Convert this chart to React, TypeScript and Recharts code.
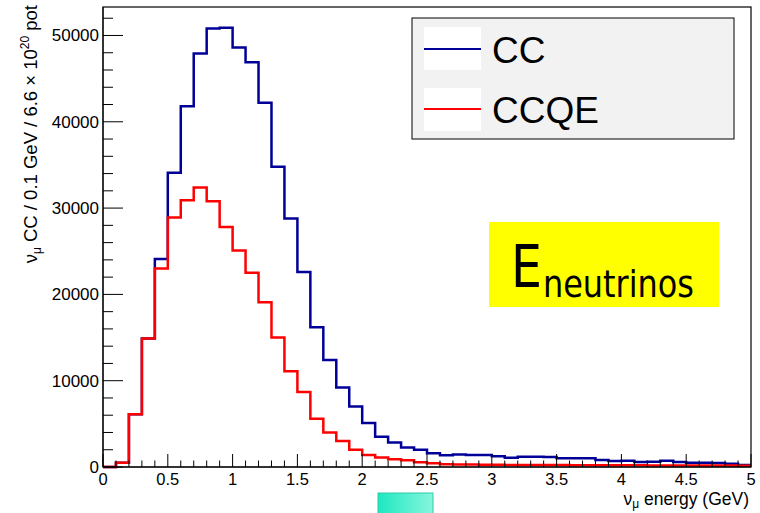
import { LineChart, Line, XAxis, YAxis } from 'recharts';

// events per 0.1 GeV bin, 0 -> 5 GeV (50 bins)
const CC_VALUES = [
  0, 500, 6100, 14900, 24100, 34100, 41800, 47900, 50800, 50900,
  48600, 46900, 42200, 34800, 28800, 22600, 16200, 12400, 9200, 7000,
  5100, 3500, 2850, 2250, 2000, 1600, 1350, 1450, 1400, 1400,
  1250, 1080, 1200, 1180, 1150, 1000, 1000, 1000, 810, 700,
  730, 580, 600, 720, 580, 500, 500, 460, 390, 230,
];
const CCQE_VALUES = [
  0, 500, 6100, 14900, 23000, 28900, 30900, 32400, 30800, 27800,
  25100, 22500, 19100, 15000, 11100, 8700, 5600, 4000, 3000, 2000,
  1400, 1100, 900, 770, 550, 430, 320, 300, 280, 270,
  250, 240, 230, 230, 220, 220, 210, 210, 200, 200,
  190, 190, 180, 180, 170, 170, 160, 160, 160, 150,
];
const BIN_WIDTH = 0.1;
const X_TICKS = Array.from({ length: 51 }, (_, i) => i / 10);
const Y_TICKS = Array.from({ length: 27 }, (_, i) => i * 2000);
const Y_MAX = 53300;

const SERIES = [
  { key: 'cc', name: 'CC', color: '#000099' },
  { key: 'ccqe', name: 'CCQE', color: '#ff0000' },
];

// bin low edges + closing edge at 5 GeV so the last step is drawn
const data = X_TICKS.map((_, i) => ({
  x: i * BIN_WIDTH,
  cc: CC_VALUES[Math.min(i, CC_VALUES.length - 1)],
  ccqe: CCQE_VALUES[Math.min(i, CCQE_VALUES.length - 1)],
}));

const FONT = '"Liberation Sans", Arial, Helvetica, sans-serif';
const AXIS_Y = 467; // bottom of the frame
const AXIS_X = 103; // left of the frame

const renderXTick = (props: any) => {
  const { x, payload, index } = props;
  const major = index % 5 === 0;
  return (
    <g key={`xt-${index}`}>
      <line x1={x} x2={x} y1={AXIS_Y} y2={AXIS_Y - (major ? 13 : 6.5)} stroke="#000" strokeWidth={1} />
      {major && (
        <text x={x} y={AXIS_Y + 18} textAnchor="middle" fontSize={16.5} fill="#000" fontFamily={FONT}>
          {String(payload.value)}
        </text>
      )}
    </g>
  );
};

const renderYTick = (props: any) => {
  const { y, payload, index } = props;
  const major = index % 5 === 0;
  return (
    <g key={`yt-${index}`}>
      <line x1={AXIS_X} x2={AXIS_X + (major ? 20 : 10)} y1={y} y2={y} stroke="#000" strokeWidth={1} />
      {major && (
        <text x={AXIS_X - 4} y={y + 6} textAnchor="end" fontSize={17} fill="#000" fontFamily={FONT}>
          {String(payload.value)}
        </text>
      )}
    </g>
  );
};

export default function App() {
  return (
    <div style={{ position: 'fixed', left: 0, top: 0, width: 760, height: 513, background: '#fff', fontFamily: FONT }}>
      <LineChart width={760} height={513} data={data} margin={{ top: 7, right: 9, bottom: 0, left: 0 }}>
        <XAxis
          dataKey="x"
          type="number"
          domain={[0, 5]}
          ticks={X_TICKS}
          interval={0}
          height={46}
          tickLine={false}
          axisLine={{ stroke: '#000' }}
          tick={renderXTick}
        />
        <YAxis
          type="number"
          domain={[0, Y_MAX]}
          ticks={Y_TICKS}
          interval={0}
          width={103}
          tickLine={false}
          axisLine={{ stroke: '#000' }}
          tick={renderYTick}
        />
        {SERIES.map((s) => (
          <Line
            key={s.key}
            dataKey={s.key}
            name={s.name}
            type="stepAfter"
            stroke={s.color}
            strokeWidth={2.5}
            dot={false}
            activeDot={false}
            isAnimationActive={false}
          />
        ))}
      </LineChart>

      <svg width={760} height={513} style={{ position: 'absolute', left: 0, top: 0, pointerEvents: 'none' }}>
        <defs>
          <linearGradient id="teal" x1="0" x2="1" y1="0" y2="0">
            <stop offset="0" stopColor="#1ee8c0" />
            <stop offset="1" stopColor="#86f6de" />
          </linearGradient>
        </defs>
        {/* frame */}
        <rect x={103} y={7} width={648} height={460} fill="none" stroke="#000" strokeWidth={1.2} />

        {/* axis titles */}
        <text transform="translate(37,5) rotate(-90)" textAnchor="end" fontSize={18.5} fill="#000">
          ν<tspan fontSize={12} dy={4}>μ</tspan>
          <tspan dy={-4}> CC / 0.1 GeV / 6.6 × 10</tspan>
          <tspan fontSize={12} dy={-8}>20</tspan>
          <tspan dy={8}> pot</tspan>
        </text>
        <text x={749} y={505} textAnchor="end" fontSize={17.5} fill="#000">
          ν<tspan fontSize={12} dy={3}>μ</tspan>
          <tspan dy={-3}> energy (GeV)</tspan>
        </text>

        {/* legend */}
        <rect x={412} y={18} width={322} height={121} fill="#f2f2f2" stroke="#000" strokeWidth={1} />
        {SERIES.map((s, i) => (
          <g key={s.key}>
            <rect x={424} y={27 + i * 61} width={57} height={43} fill="#fff" />
            <line x1={424} x2={481} y1={49 + i * 60} y2={49 + i * 60} stroke={s.color} strokeWidth={2} />
            <text x={492} y={63 + i * 60} fontSize={37} fill="#000">{s.name}</text>
          </g>
        ))}

        {/* E_neutrinos label */}
        <rect x={489} y={222} width={230} height={85} fill="#ffff00" />
        <text x={511} y={287} fontSize={58} fontFamily='"DejaVu Sans", sans-serif' textLength={31} lengthAdjust="spacingAndGlyphs" fill="#000">E</text>
        <text x={543} y={297} fontSize={38} fontFamily='"DejaVu Sans", sans-serif' textLength={151} lengthAdjust="spacingAndGlyphs" fill="#000">neutrinos</text>

        {/* cyan patch at bottom */}
        <rect x={378} y={493} width={55} height={24} fill="url(#teal)" stroke="#2ccaa9" strokeWidth={1} />
      </svg>
    </div>
  );
}
